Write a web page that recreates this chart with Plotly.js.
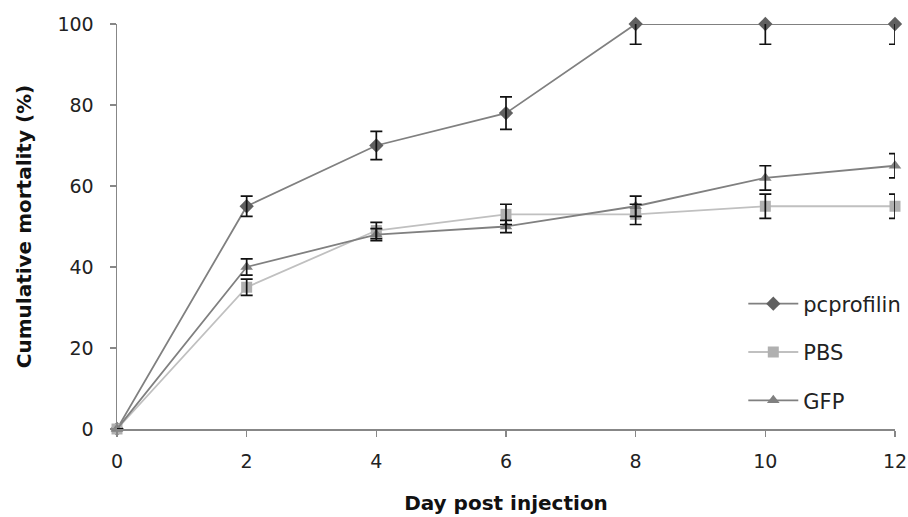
<!DOCTYPE html>
<html>
<head>
<meta charset="utf-8">
<script src="https://cdn.plot.ly/plotly-3.0.1.min.js"></script>
<style>html,body{margin:0;padding:0;background:#fff;}#chart{width:908px;height:517px;}</style>
</head>
<body>
<div id="chart"></div>
<script>
var days = [0, 2, 4, 6, 8, 10, 12];
var seriesNames = ["pcprofilin", "PBS", "GFP"];
var pcprofilin = [0, 55, 70, 78, 100, 100, 100];
var pcprofilinErr = [0, 2.5, 3.5, 4, 5, 5, 5];
var pbs = [0, 35, 49, 53, 53, 55, 55];
var pbsErr = [0, 2, 2, 2.5, 2.5, 3, 3];
var gfp = [0, 40, 48, 50, 55, 62, 65];
var gfpErr = [0, 2, 1.5, 1.5, 2.5, 3, 3];
var xTicks = [0, 2, 4, 6, 8, 10, 12];
var yTicks = [0, 20, 40, 60, 80, 100];

var font = "'DejaVu Sans', 'Open Sans', sans-serif";

function lineTrace(name, y, lineColor, markerColor, symbol, size, group) {
  return {
    x: days, y: y, name: name, type: 'scatter', mode: 'lines+markers',
    line: {color: lineColor, width: 1.8},
    marker: {color: markerColor, symbol: symbol, size: size},
    cliponaxis: false, legendgroup: group
  };
}
function errTrace(y, err) {
  return {
    x: days, y: y, type: 'scatter', mode: 'markers', showlegend: false,
    marker: {color: 'rgba(0,0,0,0)', size: 1},
    hoverinfo: 'skip', cliponaxis: true,
    error_y: {type: 'data', array: err, color: '#111', thickness: 1.7, width: 6}
  };
}

var data = [
  lineTrace(seriesNames[0], pcprofilin, '#808080', '#606060', 'diamond', 11, 'a'),
  lineTrace(seriesNames[1], pbs, '#c0c0c0', '#b0b0b0', 'square', 11, 'b'),
  lineTrace(seriesNames[2], gfp, '#808080', '#808080', 'triangle-up', 11, 'c'),
  errTrace(pcprofilin, pcprofilinErr),
  errTrace(pbs, pbsErr),
  errTrace(gfp, gfpErr)
];

var layout = {
  width: 908, height: 517,
  margin: {l: 117, r: 13, t: 24, b: 88, autoexpand: false},
  paper_bgcolor: '#fff', plot_bgcolor: '#fff',
  font: {family: font, size: 19, color: '#222'},
  showlegend: true,
  legend: {x: 0.805, y: 0.19, xanchor: 'left', yanchor: 'middle',
           traceorder: 'grouped', tracegroupgap: 18, itemwidth: 50,
           font: {family: font, size: 21, color: '#222'}, bgcolor: 'rgba(0,0,0,0)'},
  xaxis: {
    range: [0, 12], tickvals: xTicks, ticktext: xTicks.map(String),
    showgrid: false, zeroline: false, showline: true, linecolor: '#878787', linewidth: 1.5,
    ticks: 'outside', ticklen: 6, tickcolor: '#878787', tickwidth: 1.5,
    ticklabelstandoff: 9,
    tickfont: {family: font, size: 19, color: '#222'},
    title: {text: '<b>Day post injection</b>', font: {family: font, size: 20, color: '#111'}, standoff: 24},
    automargin: false, fixedrange: true
  },
  yaxis: {
    range: [0, 100], tickvals: yTicks, ticktext: yTicks.map(String),
    showgrid: false, zeroline: false, showline: true, linecolor: '#878787', linewidth: 1.5,
    ticks: 'outside', ticklen: 6, tickcolor: '#878787', tickwidth: 1.5,
    ticklabelstandoff: 12,
    tickfont: {family: font, size: 19, color: '#222'},
    title: {text: '<b>Cumulative mortality (%)</b>', font: {family: font, size: 20, color: '#111'}, standoff: 20},
    automargin: false, fixedrange: true
  }
};

Plotly.newPlot('chart', data, layout, {displayModeBar: false, staticPlot: true});
</script>
</body>
</html>
